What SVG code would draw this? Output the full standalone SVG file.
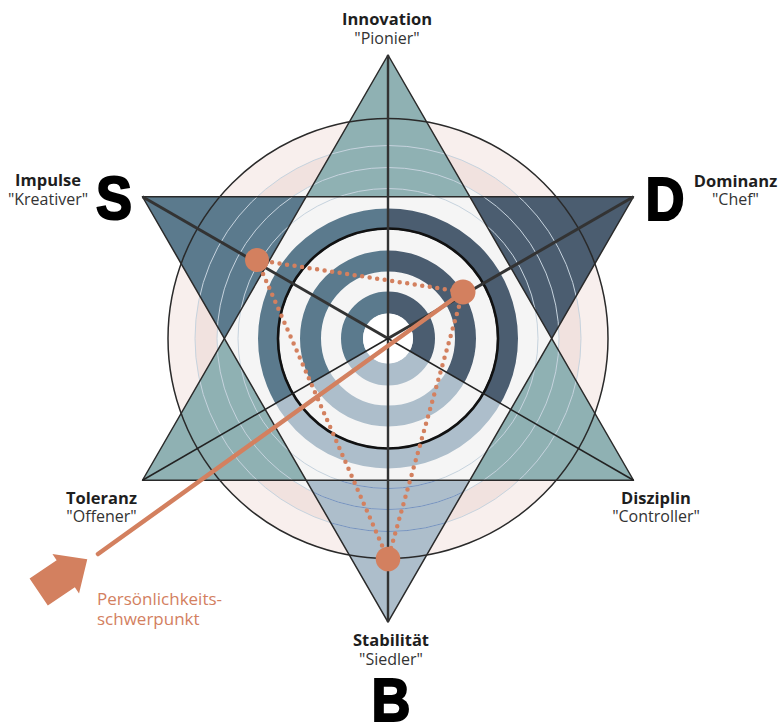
<svg xmlns="http://www.w3.org/2000/svg" width="779" height="722" viewBox="0 0 779 722">
<style>
.lbl{font-family:"Open Sans","Liberation Sans",sans-serif;font-size:16.5px;font-weight:700;fill:#1e1e1e;text-anchor:middle}
.sub{font-family:"Open Sans","Liberation Sans",sans-serif;font-size:16px;font-weight:400;fill:#333;text-anchor:middle}
.big{font-family:"Liberation Sans","Arial",sans-serif;font-size:62px;font-weight:700;fill:#000;stroke:#000;stroke-width:2.2;text-anchor:middle}
.note{font-family:"Open Sans","Liberation Sans",sans-serif;font-size:17px;fill:#d3805f}
.edge{fill:none;stroke:#2a2a2a;stroke-width:1.5;stroke-linejoin:round}
.thin{fill:none;stroke:#c6d3de;stroke-width:1}
.dot{fill:none;stroke:#d3805f;stroke-width:4.5;stroke-linecap:round;stroke-dasharray:0 7.6}
</style>
<defs>
<clipPath id="cl"><polygon points="388,338.5 388,0 0,0 0,562.5"/></clipPath>
<clipPath id="cr"><polygon points="388,338.5 388,0 779,0 779,564.2"/></clipPath>
<clipPath id="cb"><polygon points="388,338.5 0,562.5 0,722 779,722 779,564.2"/></clipPath>
<clipPath id="cbt"><polygon points="388,622 306.16,480.25 469.84,480.25"/></clipPath>
</defs>

<g id="background">
<circle cx="388" cy="338.5" r="220" fill="#f8efed"/>
<circle cx="388" cy="338.5" r="193" fill="#f1e2df"/>
<circle cx="388" cy="338.5" r="171" fill="#f5f5f5"/>
</g>

<g id="star-points">
<polygon id="pt-top" points="388,55 469.84,196.75 306.16,196.75" fill="#8fb1b3"/>
<polygon id="pt-ur" points="633.5,196.75 551.68,338.5 469.84,196.75" fill="#4b5d70"/>
<polygon id="pt-lr" points="633.5,480.25 469.84,480.25 551.68,338.5" fill="#8fb1b3"/>
<polygon id="pt-bot" points="388,622 306.16,480.25 469.84,480.25" fill="#adbecb"/>
<polygon id="pt-ll" points="142.5,480.25 224.32,338.5 306.16,480.25" fill="#8fb1b3"/>
<polygon id="pt-ul" points="142.5,196.75 306.16,196.75 224.32,338.5" fill="#5b7a8d"/>
</g>

<g id="rings" fill="none">
<g clip-path="url(#cl)" stroke="#5b7a8d">
<circle cx="388" cy="338.5" r="36" stroke-width="22"/>
<circle cx="388" cy="338.5" r="77.5" stroke-width="21"/>
<circle cx="388" cy="338.5" r="119.5" stroke-width="21"/>
</g>
<g clip-path="url(#cr)" stroke="#4b5d70">
<circle cx="388" cy="338.5" r="36" stroke-width="22"/>
<circle cx="388" cy="338.5" r="77.5" stroke-width="21"/>
<circle cx="388" cy="338.5" r="119.5" stroke-width="21"/>
</g>
<g clip-path="url(#cb)" stroke="#adbecb">
<circle cx="388" cy="338.5" r="36" stroke-width="22"/>
<circle cx="388" cy="338.5" r="77.5" stroke-width="21"/>
<circle cx="388" cy="338.5" r="119.5" stroke-width="21"/>
</g>
<circle cx="388" cy="338.5" r="25" fill="#ffffff"/>
</g>

<g id="scale-circles">
<circle class="thin" cx="388" cy="338.5" r="150"/>
<circle class="thin" cx="388" cy="338.5" r="171"/>
<circle class="thin" cx="388" cy="338.5" r="193"/>
<g clip-path="url(#cbt)">
<circle cx="388" cy="338.5" r="150" fill="none" stroke="#7592bd" stroke-width="1"/>
<circle cx="388" cy="338.5" r="171" fill="none" stroke="#7592bd" stroke-width="1"/>
<circle cx="388" cy="338.5" r="193" fill="none" stroke="#7592bd" stroke-width="1"/>
</g>
</g>

<g id="star-outline">
<polygon class="edge" points="388,55 633.5,480.25 142.5,480.25"/>
<polygon class="edge" points="388,622 142.5,196.75 633.5,196.75"/>
<circle cx="388" cy="338.5" r="220" fill="none" stroke="#2a2a2a" stroke-width="1.5"/>
<circle cx="388" cy="338.5" r="110" fill="none" stroke="#111" stroke-width="2.6"/>
</g>

<g id="connectors">
<line x1="388" y1="55" x2="388" y2="622" stroke="#333" stroke-width="2.4"/>
<line x1="388" y1="338.5" x2="142.5" y2="196.75" stroke="#333" stroke-width="3"/>
<line x1="388" y1="338.5" x2="633.5" y2="196.75" stroke="#333" stroke-width="3"/>
<line x1="388" y1="338.5" x2="142.5" y2="480.25" stroke="#222" stroke-width="1.5"/>
<line x1="388" y1="338.5" x2="633.5" y2="480.25" stroke="#222" stroke-width="1.5"/>
<line class="dot" x1="257" y1="260" x2="463" y2="292"/>
<line class="dot" x1="257" y1="260" x2="388" y2="559"/>
<line class="dot" x1="463" y1="292" x2="388" y2="559"/>
<line x1="463" y1="292" x2="98" y2="554" stroke="#d3805f" stroke-width="4.5" stroke-linecap="round"/>
<polygon fill="#d3805f" transform="translate(38.7,592) rotate(-34)" points="0,-16.3 32.6,-16.3 32.6,-23.8 58.6,0 32.6,23.8 32.6,16.3 0,16.3"/>
</g>

<g id="points">
<circle id="p-s" cx="257" cy="260" r="12" fill="#d3805f"/>
<circle id="p-d" cx="463" cy="292" r="12.5" fill="#d3805f"/>
<circle id="p-b" cx="388" cy="559" r="12.3" fill="#d3805f"/>
</g>

<g id="labels">
<g id="n-innovation"><text class="lbl" x="387" y="25">Innovation</text><text class="sub" x="387" y="44">"Pionier"</text></g>
<g id="n-impulse"><text class="lbl" x="48" y="186">Impulse</text><text class="sub" x="48" y="205">"Kreativer"</text></g>
<g id="n-dominanz"><text class="lbl" x="735.5" y="187">Dominanz</text><text class="sub" x="735.5" y="205">"Chef"</text></g>
<g id="n-toleranz"><text class="lbl" x="101.5" y="503.5">Toleranz</text><text class="sub" x="101.5" y="522">"Offener"</text></g>
<g id="n-disziplin"><text class="lbl" x="656" y="504">Disziplin</text><text class="sub" x="656" y="522">"Controller"</text></g>
<g id="n-stabilitaet"><text class="lbl" x="391" y="646">Stabilität</text><text class="sub" x="391" y="665">"Siedler"</text></g>
<g id="n-note"><text class="note" x="97" y="605">Persönlichkeits-</text><text class="note" x="97" y="625">schwerpunkt</text></g>
<text class="big" transform="translate(114,219) scale(0.87,1)">S</text>
<text class="big" transform="translate(665,220) scale(0.87,1)">D</text>
<text class="big" transform="translate(391,721) scale(0.87,1)">B</text>
</g>
</svg>
